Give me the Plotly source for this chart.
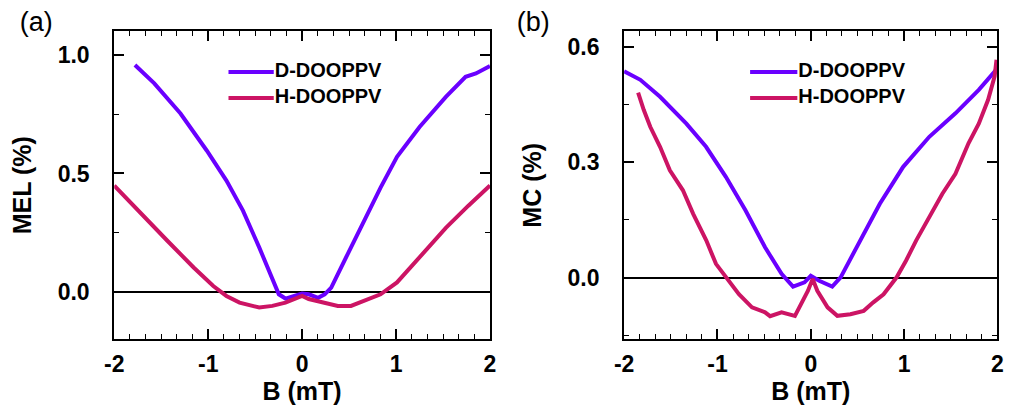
import plotly.graph_objects as go

# ---------------- data ----------------
# Panel (a): MEL (%) vs B (mT)
a_D_B = [-1.78, -1.574, -1.295, -1.016, -0.806, -0.63, -0.457, -0.317, -0.248, -0.178,
         -0.073, 0.0, 0.07, 0.17, 0.24, 0.31, 0.485, 0.66, 0.835, 1.01, 1.25, 1.53, 1.74, 1.85, 2.0]
a_D_MEL = [0.958, 0.88, 0.753, 0.597, 0.47, 0.343, 0.188, 0.061, -0.01, -0.028,
           -0.017, -0.007, -0.01, -0.025, -0.01, 0.018, 0.16, 0.30, 0.44, 0.57, 0.696, 0.823, 0.908, 0.922, 0.953]

a_H_B = [-2.0, -1.714, -1.435, -1.155, -0.946, -0.806, -0.666, -0.457, -0.317, -0.178,
         -0.073, 0.0, 0.07, 0.21, 0.38, 0.52, 0.66, 0.835, 1.01, 1.25, 1.53, 1.77, 2.0]
a_H_MEL = [0.449, 0.329, 0.216, 0.103, 0.025, -0.017, -0.045, -0.066, -0.059, -0.045,
           -0.031, -0.017, -0.03, -0.045, -0.059, -0.059, -0.038, -0.01, 0.04, 0.145, 0.27, 0.364, 0.449]

# Panel (b): MC (%) vs B (mT)
b_D_B = [-2.0, -1.826, -1.615, -1.333, -1.122, -0.91, -0.70, -0.49, -0.313, -0.19,
         -0.067, 0.0, 0.09, 0.23, 0.32, 0.496, 0.74, 0.99, 1.27, 1.55, 1.80, 2.0]
b_D_MC = [0.536, 0.514, 0.47, 0.40, 0.34, 0.262, 0.175, 0.079, 0.01, -0.023,
          -0.012, 0.005, -0.008, -0.023, 0.001, 0.079, 0.192, 0.288, 0.366, 0.427, 0.488, 0.544]

b_H_B = [-1.85, -1.79, -1.72, -1.615, -1.51, -1.37, -1.26, -1.12, -1.016, -0.91,
         -0.77, -0.63, -0.49, -0.436, -0.313, -0.17, -0.1, -0.03, 0.02, 0.07,
         0.18, 0.285, 0.425, 0.567, 0.67, 0.78, 0.92, 1.02, 1.13, 1.27,
         1.41, 1.55, 1.69, 1.80, 1.90, 1.97, 1.99]
b_H_MC = [0.481, 0.436, 0.392, 0.34, 0.279, 0.227, 0.166, 0.097, 0.036, 0.001,
          -0.043, -0.077, -0.09, -0.10, -0.09, -0.099, -0.069, -0.034, -0.003, -0.034,
          -0.077, -0.099, -0.095, -0.086, -0.064, -0.043, 0.001, 0.044, 0.097, 0.157,
          0.218, 0.27, 0.349, 0.40, 0.462, 0.523, 0.566]

series_names = ["D-DOOPPV", "H-DOOPPV"]
panel_labels = ["(a)", "(b)"]
x_tickvals = [-2, -1, 0, 1, 2]
x_ticktext = ["-2", "-1", "0", "1", "2"]
a_y_tickvals = [0.0, 0.5, 1.0]
a_y_ticktext = ["0.0", "0.5", "1.0"]
b_y_tickvals = [0.0, 0.3, 0.6]
b_y_ticktext = ["0.0", "0.3", "0.6"]

# ---------------- styling / layout constants ----------------
W, H = 1011, 415
BLUE = "#6a00ff"
MAG = "#cc1464"
COLORS = [BLUE, MAG]
FONT = "Liberation Sans"
LW = 4

# legend placement (page pixels, on a full-page helper axis pair)
LEG_ROWS_Y = [72, 98]
LEG_A = dict(line_x0=222, line_x1=268, text_x=269)
LEG_B = dict(line_x0=752, line_x1=800, text_x=801)
LABEL_POS = [(10, 24), (515, 24)]

fig = go.Figure()
fig.add_trace(go.Scatter(x=a_D_B, y=a_D_MEL, mode="lines", name=series_names[0],
                         line=dict(color=BLUE, width=LW), xaxis="x", yaxis="y"))
fig.add_trace(go.Scatter(x=a_H_B, y=a_H_MEL, mode="lines", name=series_names[1],
                         line=dict(color=MAG, width=LW), xaxis="x", yaxis="y"))
fig.add_trace(go.Scatter(x=b_D_B, y=b_D_MC, mode="lines", name=series_names[0],
                         line=dict(color=BLUE, width=LW), xaxis="x2", yaxis="y2"))
fig.add_trace(go.Scatter(x=b_H_B, y=b_H_MC, mode="lines", name=series_names[1],
                         line=dict(color=MAG, width=LW), xaxis="x2", yaxis="y2"))

# legends (line samples + labels) drawn on an invisible full-page axis pair
legfont = dict(family=FONT, size=20, color="black", weight="bold")
for leg in (LEG_A, LEG_B):
    for name, col, yy in zip(series_names, COLORS, LEG_ROWS_Y):
        fig.add_trace(go.Scatter(x=[leg["line_x0"], leg["line_x1"]], y=[yy, yy], mode="lines",
                                 line=dict(color=col, width=LW), xaxis="x3", yaxis="y3",
                                 hoverinfo="skip", cliponaxis=False))
    fig.add_trace(go.Scatter(x=[leg["text_x"]] * 2, y=LEG_ROWS_Y, text=series_names, mode="text",
                             textposition="middle right", textfont=legfont,
                             xaxis="x3", yaxis="y3", hoverinfo="skip", cliponaxis=False))
# panel labels
fig.add_trace(go.Scatter(x=[p[0] for p in LABEL_POS], y=[p[1] for p in LABEL_POS], text=panel_labels,
                         mode="text", textposition="middle right",
                         textfont=dict(family=FONT, size=27, color="black"),
                         xaxis="x3", yaxis="y3", hoverinfo="skip", cliponaxis=False))

tickfont = dict(family=FONT, size=23, color="black", weight="bold")
titlefont = dict(family=FONT, size=25, color="black", weight="bold")

def xax(domain, anchor):
    return dict(domain=domain, anchor=anchor, range=[-2, 2],
                tickmode="array", tickvals=x_tickvals, ticktext=x_ticktext,
                ticks="inside", ticklen=10, tickwidth=1.8, tickcolor="black",
                minor=dict(tickmode="linear", tick0=-2, dtick=1/6, ticks="inside",
                           ticklen=5, tickwidth=1.4, tickcolor="black"),
                showline=True, linecolor="black", linewidth=2, mirror="ticks",
                showgrid=False, zeroline=False, tickfont=tickfont, ticklabelstandoff=3,
                title=dict(text="B (mT)", font=titlefont, standoff=6))

def yax(domain, anchor, rng, tv, tt, minor_dt, title):
    return dict(domain=domain, anchor=anchor, range=rng,
                tickmode="array", tickvals=tv, ticktext=tt,
                ticks="inside", ticklen=10, tickwidth=1.8, tickcolor="black",
                minor=dict(tickmode="linear", tick0=0, dtick=minor_dt, ticks="inside",
                           ticklen=5, tickwidth=1.4, tickcolor="black"),
                showline=True, linecolor="black", linewidth=2, mirror="ticks",
                showgrid=False, zeroline=True, zerolinecolor="black", zerolinewidth=1.6,
                tickfont=tickfont, ticklabelstandoff=18,
                title=dict(text=title, font=titlefont, standoff=19))

ydom = [0.1824, 0.9246]
fig.update_layout(
    width=W, height=H,
    margin=dict(l=0, r=0, t=0, b=0),
    showlegend=False,
    paper_bgcolor="white", plot_bgcolor="rgba(0,0,0,0)",
    xaxis=xax([0.1048, 0.4824], "y"),
    yaxis=yax(ydom, "x", [-0.2, 1.1], a_y_tickvals, a_y_ticktext, 0.25, "MEL (%)"),
    xaxis2=xax([0.6172, 0.9924], "y2"),
    yaxis2=yax(ydom, "x2", [-0.16, 0.64], b_y_tickvals, b_y_ticktext, 0.15, "MC (%)"),
    xaxis3=dict(domain=[0, 1], anchor="y3", range=[0, W], visible=False, fixedrange=True),
    yaxis3=dict(domain=[0, 1], anchor="x3", range=[H, 0], visible=False, fixedrange=True),
)

fig.write_html("out.html")
